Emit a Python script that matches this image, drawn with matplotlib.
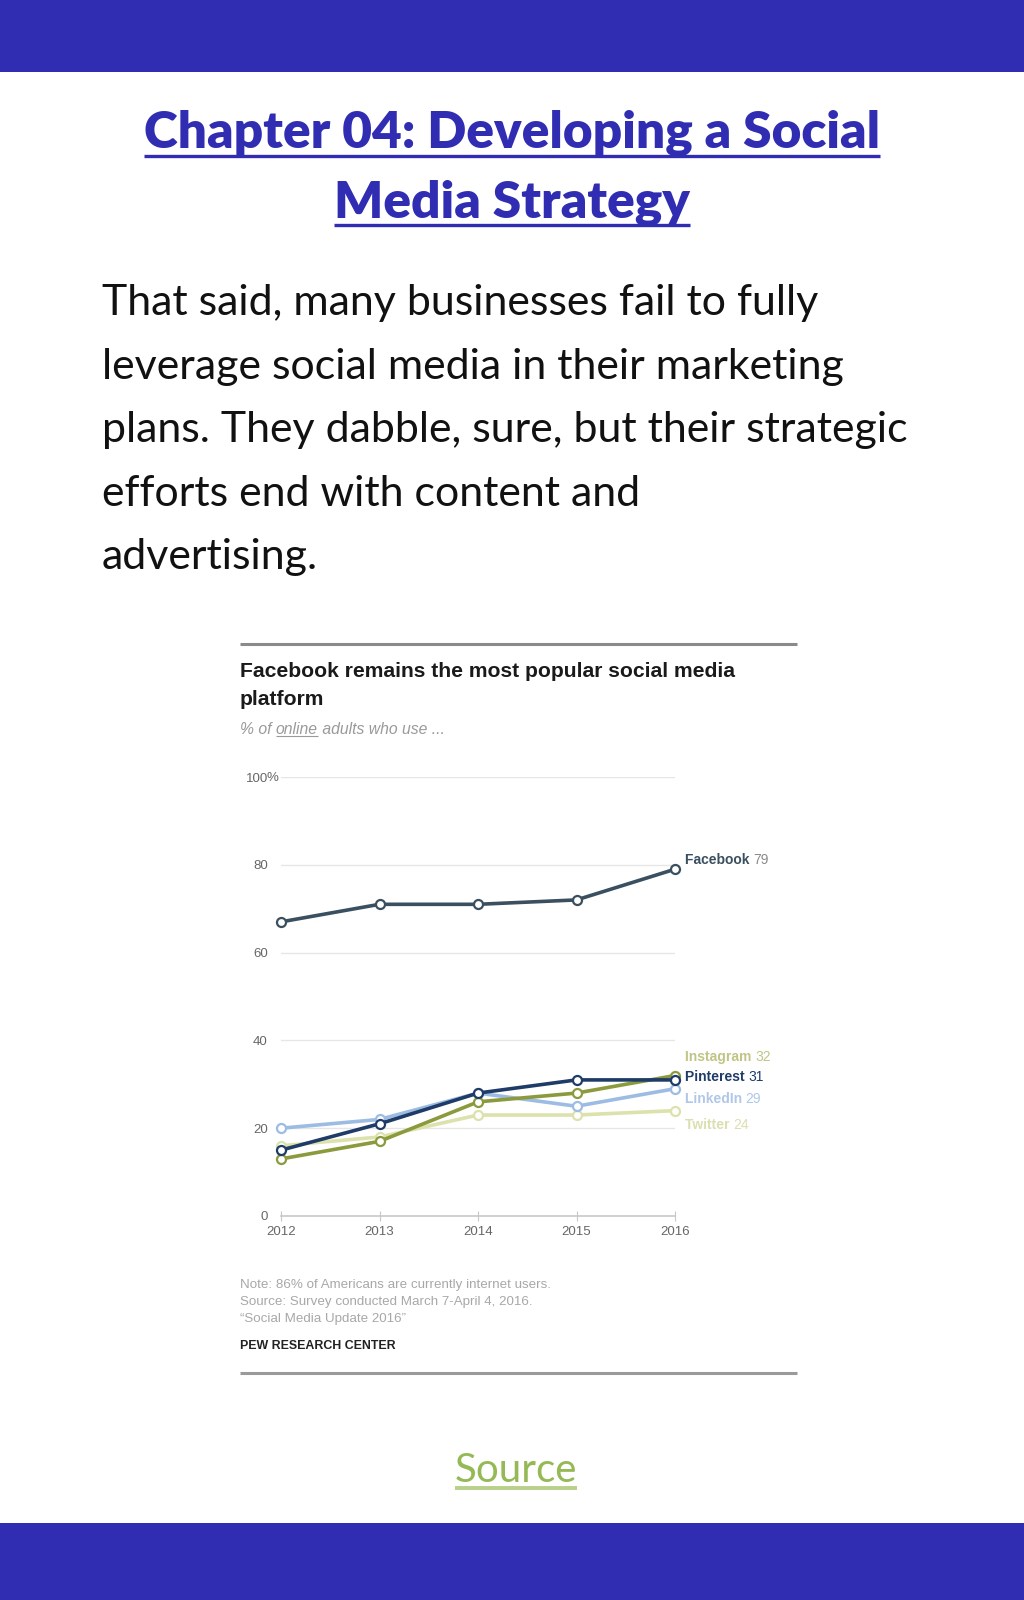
import matplotlib
matplotlib.use("Agg")
import matplotlib.pyplot as plt
from matplotlib.lines import Line2D

# ---- data ----
years = [2012, 2013, 2014, 2015, 2016]
facebook = [67, 71, 71, 72, 79]
pinterest = [15, 21, 28, 31, 31]
instagram = [13, 17, 26, 28, 32]
linkedin = [20, 22, 28, 25, 29]
twitter = [16, 18, 23, 23, 24]

series_names = ["Twitter", "LinkedIn", "Instagram", "Pinterest", "Facebook"]
series_values = [twitter, linkedin, instagram, pinterest, facebook]
series_colors = ["#dde2ad", "#9dbce3", "#8a9a3c", "#1f3b68", "#3a4f5f"]
label_colors = ["#dcdfb0", "#b0c7e8", "#c0c585", "#1f3b68", "#3a4f5f"]
label_dy = [-14, -10, 19, 3, 9]  # pixel offsets of end labels

y_ticks = [0, 20, 40, 60, 80, 100]
y_ticklabels = ["0", "20", "40", "60", "80", "100"]

heading = ["Chapter 04: Developing a Social", "Media Strategy"]
body = ["That said, many businesses fail to fully",
        "leverage social media in their marketing",
        "plans. They dabble, sure, but their strategic",
        "efforts end with content and",
        "advertising."]
chart_title = ["Facebook remains the most popular social media", "platform"]
notes = ["Note: 86% of Americans are currently internet users.",
         "Source: Survey conducted March 7-April 4, 2016.",
         "\u201cSocial Media Update 2016\u201d"]

W, H = 1024, 1600
BLUE = "#302db3"

fig = plt.figure(figsize=(W / 100, H / 100), dpi=100)
fig.patch.set_facecolor("white")


def fx(x):
    return x / W


def fy(y):
    return 1 - y / H


def hline(x0, x1, y, color, lw):
    fig.add_artist(Line2D([fx(x0), fx(x1)], [fy(y), fy(y)], color=color,
                          lw=lw, solid_capstyle="butt"))


renderer = fig.canvas.get_renderer()


def underline(t, dy, color, lw):
    bb = t.get_window_extent(renderer)
    base = t.get_position()[1]
    yb = base * H - dy
    fig.add_artist(Line2D([bb.x0 / W, bb.x1 / W], [yb / H, yb / H],
                          color=color, lw=lw, solid_capstyle="butt"))


# top / bottom bars
fig.add_artist(plt.Rectangle((0, fy(72)), 1, 72 / H, color=BLUE, lw=0))
fig.add_artist(plt.Rectangle((0, 0), 1, 77 / H, color=BLUE, lw=0))

# heading
for i, line in enumerate(heading):
    t = fig.text(0.5, fy(148 + 69 * i), line, ha="center", va="baseline",
                 fontsize=37, fontweight="heavy", family="Lato", color=BLUE)
    underline(t, 8, BLUE, 2.4)

# body paragraph
for i, line in enumerate(body):
    fig.text(fx(102), fy(315 + 63.5 * i), line, ha="left", va="baseline",
             fontsize=30.9, family="Lato", color="#111111")

# chart frame
hline(240, 797, 644, "#8a8a8a", 2.2)
hline(240, 797, 1373, "#9a9a9a", 2.2)

for i, line in enumerate(chart_title):
    fig.text(fx(240), fy(677 + 28 * i), line, ha="left", va="baseline",
             fontsize=15.2, fontweight="bold", family="Liberation Sans",
             color="#1a1a1a")

# subtitle with underlined word
x = fx(240)
for piece, ul in [("% of ", False), ("online", True), (" adults who use ...", False)]:
    t = fig.text(x, fy(734), piece, ha="left", va="baseline", fontsize=11.3,
                 style="italic", family="Liberation Sans", color="#9a9a9a")
    bb = t.get_window_extent(renderer)
    if ul:
        underline(t, 2, "#9a9a9a", 0.8)
    x = bb.x1 / W

# line chart
ax = fig.add_axes([fx(281), fy(1216), (675 - 281) / W, (1216 - 777) / H])
ax.set_xlim(2012, 2016)
ax.set_ylim(0, 100)
for s in ["top", "right", "left"]:
    ax.spines[s].set_visible(False)
ax.spines["bottom"].set_color("#c8c8c8")
ax.spines["bottom"].set_linewidth(1.2)
ax.set_yticks(y_ticks)
ax.set_yticklabels(y_ticklabels)
ax.set_xticks(years)
ax.set_xticklabels([str(y) for y in years])
ax.tick_params(axis="y", length=0, pad=9.5, labelsize=9.5, labelcolor="#666666")
ax.tick_params(axis="x", direction="inout", length=7, color="#c8c8c8",
               pad=4, labelsize=9.5, labelcolor="#666666")
for t in ax.get_xticklabels() + ax.get_yticklabels():
    t.set_family("Liberation Sans")
for v in y_ticks[1:]:
    ax.axhline(v, color="#e6e6e6", lw=1.0, zorder=0)
ax.annotate("%", xy=(2012, 100), xytext=(-10.3, -0.5), textcoords="offset points",
            ha="left", va="center", fontsize=9.5, color="#666666",
            family="Liberation Sans", annotation_clip=False)

for name, vals, c, lc, dy in zip(series_names, series_values, series_colors,
                                 label_colors, label_dy):
    ax.plot(years, vals, color=c, lw=2.6, marker="o", ms=6.5,
            mfc="white", mec=c, mew=1.6, clip_on=False, zorder=3)
    lab = ax.annotate(name + " ", xy=(years[-1], vals[-1]), xytext=(7, dy * 0.72),
                      textcoords="offset points", ha="left", va="center",
                      fontsize=10, fontweight="bold", color=lc,
                      family="Liberation Sans", annotation_clip=False)
    fig.canvas.draw()
    bb = lab.get_window_extent(renderer)
    ax.annotate(str(vals[-1]), xy=(bb.x1, (bb.y0 + bb.y1) / 2),
                xycoords="figure pixels", ha="left", va="center",
                fontsize=10, color=lc if name != "Facebook" else "#8a8a8a",
                family="Liberation Sans", annotation_clip=False)

# notes
for i, line in enumerate(notes):
    fig.text(fx(240), fy(1288 + 17 * i), line, ha="left", va="baseline",
             fontsize=9.6, family="Liberation Sans", color="#a8a8a8")
fig.text(fx(240), fy(1349), "PEW RESEARCH CENTER", ha="left", va="baseline",
         fontsize=8.9, fontweight="bold", family="Liberation Sans",
         color="#222222")

# source link
t = fig.text(fx(516), fy(1482), "Source", ha="center", va="baseline",
             fontsize=29, family="Lato", color="#95b955")
underline(t, 6, "#b9d08a", 2.8)

fig.savefig("out.png", dpi=100, facecolor="white")
